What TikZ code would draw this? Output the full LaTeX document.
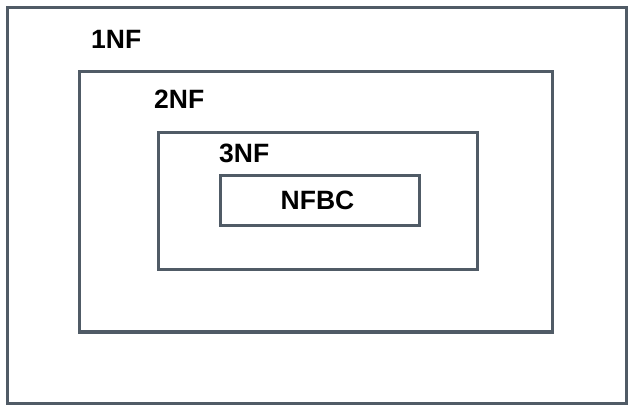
\documentclass[tikz,border=0pt]{standalone}
\usepackage{fontspec}
\setmainfont{Liberation Sans}
\definecolor{boxgray}{HTML}{505B66}
\begin{document}
\begin{tikzpicture}[x=1pt,y=-1pt,
  frame/.style={draw=boxgray,line width=3pt},
  lbl/.style={font=\fontsize{26.5}{30}\selectfont\bfseries,inner sep=0pt,text=black}]
\useasboundingbox (0,0) rectangle (634,411);
\draw[frame] (7.5,7.5) rectangle (626,403) coordinate (b1);
\draw[frame] (79,72) rectangle (552,332) coordinate (b2);
\draw[frame] (158,133) rectangle (477,270) coordinate (b3);
\node[frame,minimum width=199pt,minimum height=49.5pt,inner sep=0pt] (nfbc) at (319.5,200.5) {};
\node[lbl,anchor=base west] (l1) at (91,48.5) {1NF};
\node[lbl,anchor=base west] (l2) at (154,109) {2NF};
\node[lbl,anchor=base west] (l3) at (219,163) {3NF};
\node[lbl,anchor=base] (l4) at (317.5,210) {NFBC};
\end{tikzpicture}
\end{document}
